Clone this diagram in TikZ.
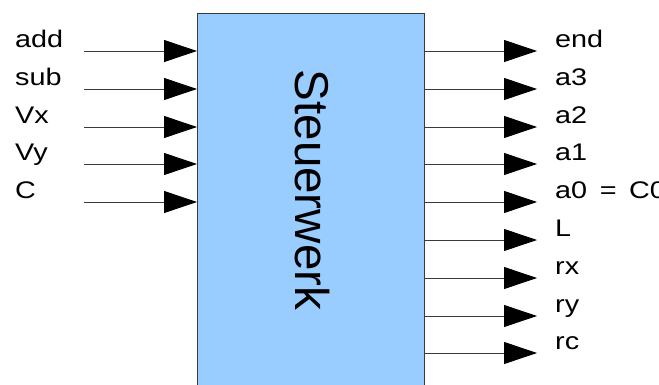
\documentclass[tikz,border=0pt]{standalone}
\usepackage{fontspec}
\setmainfont{Liberation Sans}
\usetikzlibrary{arrows.meta}
\definecolor{boxblue}{HTML}{99CCFF}
\definecolor{wire}{HTML}{3A3A3A}
\tikzset{
  unitbox/.style={draw=wire, line width=1pt, fill=boxblue, anchor=north west,
    minimum width=227pt, minimum height=382pt, inner sep=0pt},
  signal/.style={draw=wire, line width=0.9pt,
    -{Triangle[length=33pt,width=22pt,color=black]}},
  siglabel/.style={anchor=base west, inner sep=0pt,
    font=\fontsize{24}{28}\selectfont},
  bigtitle/.style={rotate=-90, anchor=base, inner sep=0pt,
    font=\fontsize{47.5}{52}\selectfont}
}
% labels are set in a horizontally widened sans
\newcommand{\wide}[1]{\scalebox{1.2}[1]{#1}}
\newcommand{\gap}{\hspace{3.8pt}}
\begin{document}
\begin{tikzpicture}[x=1pt,y=-1pt]
  \useasboundingbox (0,0) rectangle (659,385);
  \clip (0,0) rectangle (659,385);
  % control unit block (runs past the lower edge)
  \node[unitbox] (sw) at (197,13) {};
  \node[bigtitle] (title) at (295,190) {Steuerwerk};
  % inputs
  \foreach \name/\txt/\y in {add/add/51, sub/sub/89, vx/Vx/127, vy/Vy/164, c/C/202}{
    \coordinate (in-\name) at (84,\y);
    \node[siglabel] (lbl-\name) at (15,\y-3.5) {\wide{\txt}};
    \draw[signal] (in-\name) -- (in-\name -| sw.west);
  }
  % outputs
  \foreach \name/\txt/\y in {end/end/51, a3/a3/89, a2/a2/127, a1/a1/164,
      a0/{a0 \gap= \gap C0}/202, l/L/240, rx/rx/278, ry/ry/316, rc/rc/353}{
    \coordinate (out-\name) at (537,\y);
    \node[siglabel] (olbl-\name) at (555,\y-3.5) {\wide{\txt}};
    \draw[signal] (out-\name -| sw.east) -- (out-\name);
  }
\end{tikzpicture}
\end{document}
